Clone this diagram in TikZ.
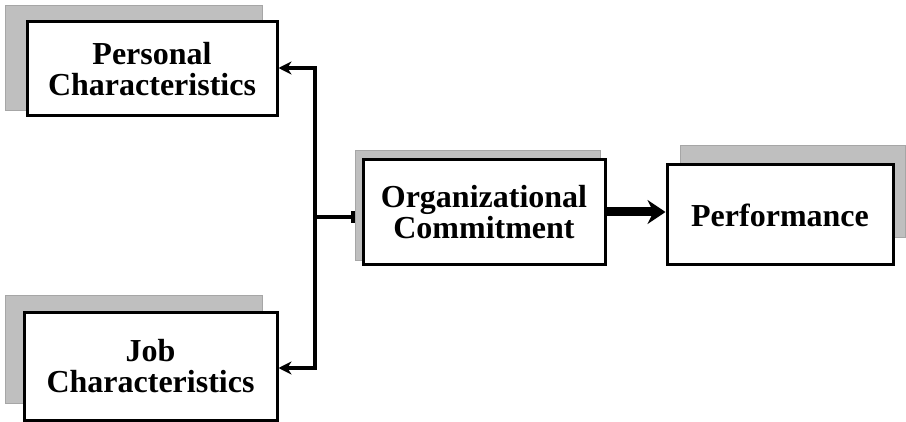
\documentclass[tikz,border=0pt]{standalone}
\usepackage{fontspec}
\setmainfont{Liberation Serif}
\usetikzlibrary{arrows.meta}
\begin{document}
\begin{tikzpicture}[x=1pt,y=-1pt,
  shadowbox/.style={fill=gray!50, draw=gray!70, line width=1pt, inner sep=0pt, anchor=north west},
  mainbox/.style={draw=black, fill=white, line width=3pt, align=center,
    font=\fontsize{32}{31}\selectfont\bfseries, inner sep=0pt},
  conn/.style={line width=4pt},
]
\useasboundingbox (0,0) rectangle (906,422);
% shadows
\node[shadowbox, minimum width=257pt, minimum height=105pt] (sP) at (5,5) {};
\node[shadowbox, minimum width=257pt, minimum height=108pt] (sJ) at (5,295) {};
\node[shadowbox, minimum width=245pt, minimum height=110pt] (sO) at (355,150) {};
\node[shadowbox, minimum width=225pt, minimum height=92pt] (sF) at (680,145) {};
% boxes
\node[mainbox, minimum width=250pt, minimum height=94pt] (pers) at (152,69) {Personal\\Characteristics};
\node[mainbox, minimum width=253pt, minimum height=107pt] (job) at (150.5,366.5) {Job\\Characteristics};
\node[mainbox, minimum width=242pt, minimum height=105pt] (org) at (484,212.5) {Organizational\\Commitment};
\node[mainbox, minimum width=226pt, minimum height=100pt] (perf) at (780,215) {Performance};
% connectors
\coordinate (hub) at (315,217);
\draw[conn, -{Stealth[length=13pt,width=13pt]}] (hub) |- ([yshift=1pt]pers.east);
\draw[conn, -{Stealth[length=13pt,width=13pt]}] (hub) |- ([yshift=-1.5pt]job.east);
\draw[conn, -{Bar[width=12pt]}] (hub) -- (sO.west |- hub);
\draw[line width=9pt, -{Stealth[length=18pt,width=24pt,inset=6pt]}] ([yshift=0.5pt]org.east) -- ([yshift=0.5pt]org.east -| perf.west);
\end{tikzpicture}
\end{document}
